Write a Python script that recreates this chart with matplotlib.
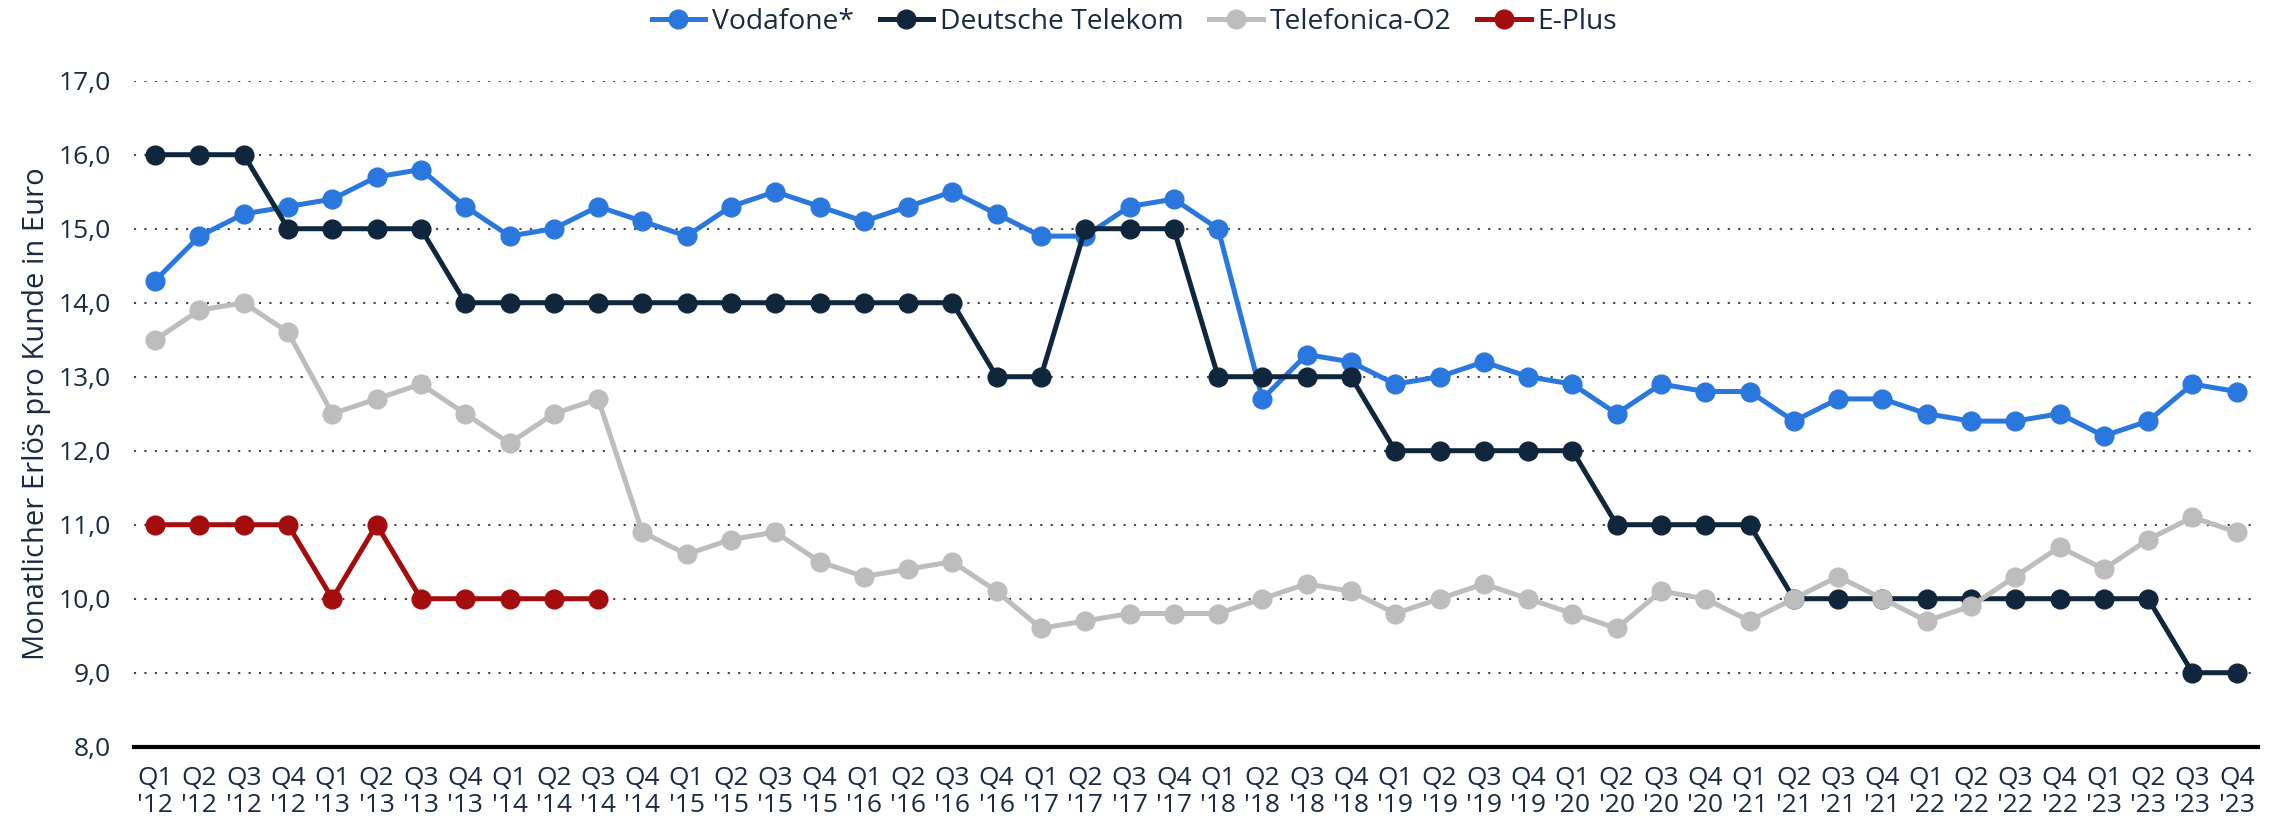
import numpy as np
import matplotlib
matplotlib.use("Agg")
import matplotlib.pyplot as plt

plt.rcParams['font.family'] = ['Open Sans', 'DejaVu Sans']

quarters = ['Q1', 'Q2', 'Q3', 'Q4']
years = ['12', '13', '14', '15', '16', '17', '18', '19', '20', '21', '22', '23']
labels = [f"{q}\n'{y}" for y in years for q in quarters]

vodafone = [14.3, 14.9, 15.2, 15.3, 15.4, 15.7, 15.8, 15.3, 14.9, 15.0, 15.3, 15.1,
            14.9, 15.3, 15.5, 15.3, 15.1, 15.3, 15.5, 15.2, 14.9, 14.9, 15.3, 15.4,
            15.0, 12.7, 13.3, 13.2, 12.9, 13.0, 13.2, 13.0, 12.9, 12.5, 12.9, 12.8,
            12.8, 12.4, 12.7, 12.7, 12.5, 12.4, 12.4, 12.5, 12.2, 12.4, 12.9, 12.8]
telekom = [16, 16, 16, 15, 15, 15, 15, 14, 14, 14, 14, 14,
           14, 14, 14, 14, 14, 14, 14, 13, 13, 15, 15, 15,
           13, 13, 13, 13, 12, 12, 12, 12, 12, 11, 11, 11,
           11, 10, 10, 10, 10, 10, 10, 10, 10, 10, 9, 9]
telefonica = [13.5, 13.9, 14.0, 13.6, 12.5, 12.7, 12.9, 12.5, 12.1, 12.5, 12.7, 10.9,
              10.6, 10.8, 10.9, 10.5, 10.3, 10.4, 10.5, 10.1, 9.6, 9.7, 9.8, 9.8,
              9.8, 10.0, 10.2, 10.1, 9.8, 10.0, 10.2, 10.0, 9.8, 9.6, 10.1, 10.0,
              9.7, 10.0, 10.3, 10.0, 9.7, 9.9, 10.3, 10.7, 10.4, 10.8, 11.1, 10.9]
eplus = [11, 11, 11, 11, 10, 11, 10, 10, 10, 10, 10]

series = [
    ('Vodafone*', vodafone, '#2a77dd'),
    ('Deutsche Telekom', telekom, '#10263d'),
    ('Telefonica-O2', telefonica, '#bdbdbd'),
    ('E-Plus', eplus, '#a30d0d'),
]

text_color = '#1b2a40'

fig = plt.figure(figsize=(22.78, 8.33), dpi=100)
ax = fig.add_axes([0.0588, 0.1036, 0.9324, 0.7995])

for name, vals, color in series:
    x = np.arange(len(vals))
    ax.plot(x, vals, color=color, lw=3.6, marker='o', markersize=13.5,
            label=name, solid_joinstyle='round')

ax.set_xlim(-0.48, 47.48)
ax.set_ylim(8, 17)
ax.set_yticks(np.arange(8, 18, 1))
ax.set_yticklabels([f"{v:.1f}".replace('.', ',') for v in np.arange(8, 18, 1)])
ax.set_xticks(np.arange(len(labels)))
ax.set_xticklabels(labels, linespacing=1.1)

# dotted grid
ax.grid(axis='y', color='#444444', linestyle=(0, (1, 4)), lw=1.5)
ax.set_axisbelow(True)
for s in ['top', 'right', 'left']:
    ax.spines[s].set_visible(False)
ax.spines['bottom'].set_color('black')
ax.spines['bottom'].set_linewidth(3)
ax.tick_params(axis='both', length=0, labelsize=19, colors=text_color)
ax.tick_params(axis='y', pad=17)
ax.tick_params(axis='x', pad=14)

ax.set_ylabel('Monatlicher Erlös pro Kunde in Euro', fontsize=21, color=text_color)
ax.yaxis.set_label_coords(-0.039, 0.5)

leg = fig.legend(loc='center', bbox_to_anchor=(0.498, 0.974), ncol=4, frameon=False,
                 fontsize=20.3, handlelength=1.9, handletextpad=0.25, columnspacing=0.9)
for t in leg.get_texts():
    t.set_color(text_color)

fig.savefig('out.png', dpi=100)
